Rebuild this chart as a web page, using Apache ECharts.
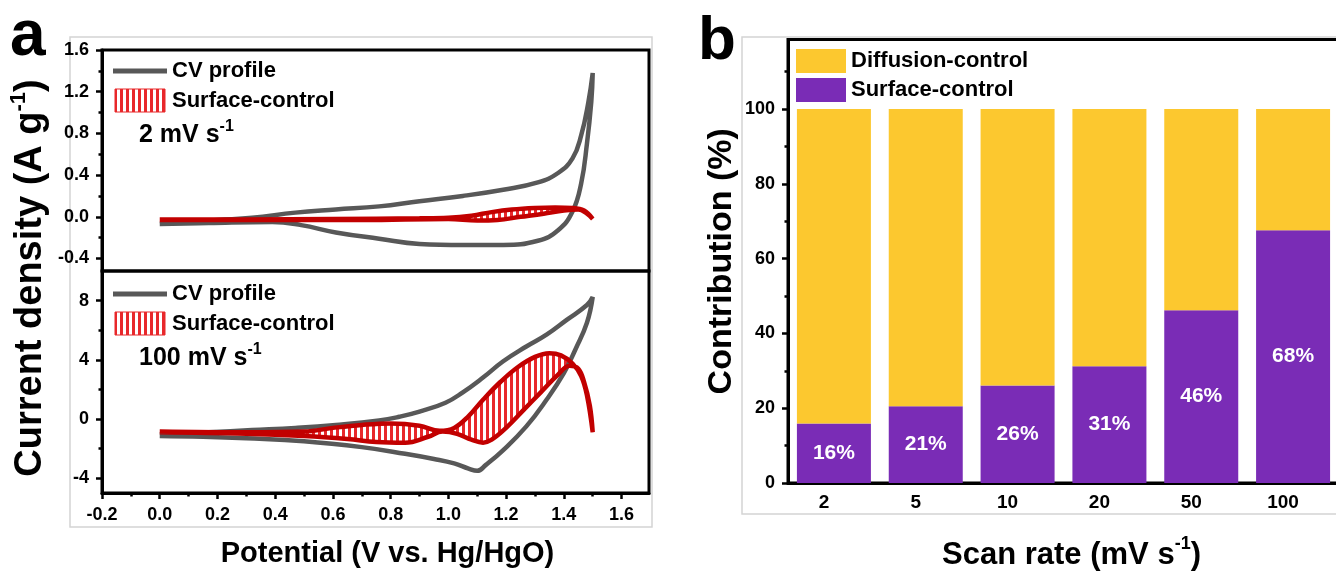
<!DOCTYPE html>
<html>
<head>
<meta charset="utf-8">
<script src="https://cdn.jsdelivr.net/npm/echarts@6/dist/echarts.min.js"></script>
<style>
  html, body { margin: 0; padding: 0; background: #fff; }
  #chart { width: 1336px; height: 575px; }
</style>
</head>
<body>
<div id="chart"></div>
<script>
// ---- panel a: CV at 2 mV/s (anodic sweep then cathodic sweep) ----
const cv2X = [0, 0.1, 0.2, 0.32, 0.47, 0.61, 0.76, 0.9, 1.05, 1.19, 1.31, 1.38, 1.43, 1.46, 1.485, 1.5,
              1.495, 1.48, 1.46, 1.43, 1.38, 1.31, 1.19, 1.05, 0.9, 0.76, 0.61, 0.49, 0.39, 0.17, 0];
const cv2Y = [-0.07, -0.05, -0.03, -0.01, 0.04, 0.07, 0.1, 0.15, 0.2, 0.26, 0.33, 0.42, 0.56, 0.78, 1.1, 1.38,
              1.1, 0.7, 0.32, 0.05, -0.13, -0.23, -0.27, -0.27, -0.26, -0.21, -0.15, -0.08, -0.05, -0.06, -0.07];
// surface-control part at 2 mV/s
const sc2X = [0, 0.3, 0.6, 0.9, 1.0, 1.08, 1.15, 1.22, 1.3, 1.37, 1.43, 1.47, 1.5,
              1.48, 1.45, 1.4, 1.33, 1.25, 1.17, 1.1, 1.0, 0.7, 0.3, 0];
const sc2Y = [-0.025, -0.025, -0.02, -0.015, -0.01, 0.01, 0.045, 0.07, 0.085, 0.09, 0.085, 0.06, -0.02,
              0.03, 0.07, 0.06, 0.03, 0.0, -0.03, -0.035, -0.02, -0.03, -0.03, -0.03];

// ---- panel a: CV at 100 mV/s ----
const cv100X = [0, 0.17, 0.32, 0.47, 0.61, 0.76, 0.83, 0.9, 0.99, 1.05, 1.12, 1.19, 1.27, 1.34, 1.41, 1.48, 1.5,
                1.48, 1.44, 1.4, 1.34, 1.27, 1.19, 1.13, 1.1, 1.07, 1.02, 0.95, 0.85, 0.7, 0.5, 0.3, 0.15, 0];
const cv100Y = [-1.05, -0.9, -0.75, -0.6, -0.4, -0.1, 0.15, 0.5, 1.1, 1.8, 2.8, 3.9, 4.9, 5.7, 6.7, 7.7, 8.25,
                6.5, 4.7, 3.1, 1.3, -0.5, -2.1, -3.1, -3.5, -3.35, -3.0, -2.7, -2.35, -1.9, -1.5, -1.3, -1.2, -1.15];
const sc100X = [0, 0.3, 0.5, 0.6, 0.7, 0.8, 0.9, 0.97, 1.02, 1.07, 1.12, 1.18, 1.24, 1.3, 1.35, 1.39, 1.43, 1.46, 1.48, 1.5,
                1.49, 1.47, 1.45, 1.42, 1.38, 1.32, 1.26, 1.2, 1.15, 1.12, 1.08, 1.03, 0.98, 0.93, 0.85, 0.75, 0.65, 0.5, 0.3, 0];
const sc100Y = [-0.85, -0.9, -0.85, -0.6, -0.4, -0.3, -0.45, -0.8, -0.6, 0.2, 1.3, 2.5, 3.5, 4.2, 4.45, 4.3, 3.75, 2.9, 1.6, -0.9,
                0.9, 2.5, 3.4, 3.6, 3.0, 1.8, 0.6, -0.6, -1.4, -1.6, -1.4, -1.0, -0.85, -1.2, -1.6, -1.55, -1.35, -1.15, -1.0, -0.9];

// ticks
const potentialTicks = [-0.2, 0, 0.2, 0.4, 0.6, 0.8, 1.0, 1.2, 1.4, 1.6];
const potentialMinor = [-0.1, 0.1, 0.3, 0.5, 0.7, 0.9, 1.1, 1.3, 1.5];
const lowRateTicks = [-0.4, 0, 0.4, 0.8, 1.2, 1.6];
const lowRateMinor = [-0.2, 0.2, 0.6, 1.0, 1.4];
const highRateTicks = [-4, 0, 4, 8];
const highRateMinor = [-2, 2, 6];

// ---- panel b ----
const scanRates = ['2', '5', '10', '20', '50', '100'];
const surfaceShare = [15.9, 20.5, 26.1, 31.2, 46.2, 67.6];
const diffusionShare = [84.1, 79.5, 73.9, 68.8, 53.8, 32.4];
const shareTicks = [0, 20, 40, 60, 80, 100];
const shareMinor = [10, 30, 50, 70, 90, 110];

const FONT = '"Liberation Sans", Arial, Helvetica, sans-serif';
const GRAY = '#585858';
const RED = '#c20000';
const STRIPE = '#e8282b';
const YELLOW = '#fcc82f';
const PURPLE = '#7a2cb6';

const zip = (xs, ys) => xs.map((x, i) => [x, ys[i]]);

// vertical red hatch used for the surface-control area
const hatchCanvas = document.createElement('canvas');
hatchCanvas.width = 6;
hatchCanvas.height = 6;
const hctx = hatchCanvas.getContext('2d');
hctx.fillStyle = STRIPE;
hctx.fillRect(0, 0, 3, 6);
const hatchFill = { image: hatchCanvas, repeat: 'repeat' };

const tickLabel = (size) => ({ fontFamily: FONT, fontWeight: 'bold', fontSize: size, color: '#000' });
const blackLine = { color: '#000', width: 3 };
const tickLine = { color: '#000', width: 2.5 };

function majorValueAxis(gridIndex, min, max, ticks, fmt, pos) {
    return {
        type: 'value', gridIndex, min, max, position: pos,
        axisLine: { show: true, onZero: false, lineStyle: blackLine },
        axisTick: { show: true, customValues: ticks, length: 6, lineStyle: tickLine },
        axisLabel: Object.assign({ customValues: ticks, formatter: fmt, margin: 13 }, tickLabel(18)),
        splitLine: { show: false }
    };
}
function minorValueAxis(gridIndex, min, max, ticks, pos) {
    return {
        type: 'value', gridIndex, min, max, position: pos,
        axisLine: { show: false, onZero: false },
        axisTick: { show: true, customValues: ticks, length: 3.5, lineStyle: tickLine },
        axisLabel: { show: false },
        splitLine: { show: false }
    };
}
function hiddenValueAxis(gridIndex, min, max, pos) {
    return {
        type: 'value', gridIndex, min, max, position: pos,
        axisLine: { show: false, onZero: false }, axisTick: { show: false },
        axisLabel: { show: false }, splitLine: { show: false }
    };
}

function cvLine(xs, ys, axis) {
    return {
        type: 'line', xAxisIndex: axis, yAxisIndex: axis, data: zip(xs, ys),
        showSymbol: false, smooth: 0.45, z: 3, silent: true,
        lineStyle: { color: GRAY, width: 4.5 }
    };
}
function surfaceLine(xs, ys, axis) {
    return {
        type: 'line', xAxisIndex: axis, yAxisIndex: axis, data: zip(xs, ys),
        showSymbol: false, smooth: 0.4, z: 5, silent: true,
        lineStyle: { color: RED, width: 4.5 }
    };
}
function surfaceHatch(xs, ys, axis) {
    const pts = zip(xs, ys);
    return {
        type: 'custom', xAxisIndex: axis, yAxisIndex: axis, data: pts, z: 2, silent: true,
        renderItem: function (params, api) {
            if (params.dataIndex !== 0) return null;
            return {
                type: 'polygon',
                shape: { points: pts.map(p => api.coord(p)), smooth: 0.3 },
                style: { fill: hatchFill, stroke: null }
            };
        }
    };
}

const supRich = (big, small, lh) => ({
    t: { fontFamily: FONT, fontWeight: 'bold', fontSize: big, lineHeight: lh, color: '#000' },
    s: { fontFamily: FONT, fontWeight: 'bold', fontSize: small, lineHeight: small, verticalAlign: 'top', color: '#000' }
});

function panelLegend(y0, rateText) {
    return [
        { type: 'line', shape: { x1: 113, y1: y0, x2: 167, y2: y0 }, style: { stroke: GRAY, lineWidth: 5 } },
        { type: 'text', x: 172, y: y0, style: { text: 'CV profile', fontFamily: FONT, fontWeight: 'bold', fontSize: 22, fill: '#000', verticalAlign: 'middle' } },
        { type: 'rect', shape: { x: 115, y: y0 + 18, width: 50, height: 23 }, style: { fill: hatchFill, stroke: STRIPE, lineWidth: 1 } },
        { type: 'text', x: 172, y: y0 + 30, style: { text: 'Surface-control', fontFamily: FONT, fontWeight: 'bold', fontSize: 22, fill: '#000', verticalAlign: 'middle' } },
        { type: 'text', x: 139, y: y0 + 64, style: { text: '{t|' + rateText + ' mV s}{s|-1}', rich: supRich(25, 16, 32), verticalAlign: 'middle' } }
    ];
}

const option = {
    animation: false,
    backgroundColor: '#fff',
    grid: [
        { left: 102, top: 50, width: 547, height: 221, show: true, borderColor: '#000', borderWidth: 3, outerBoundsMode: 'none', containLabel: false },
        { left: 102, top: 271, width: 547, height: 222, show: true, borderColor: '#000', borderWidth: 3, outerBoundsMode: 'none', containLabel: false },
        { left: 788, top: 39.5, right: -3, height: 443.5, show: true, borderColor: '#000', borderWidth: 3, outerBoundsMode: 'none', containLabel: false }
    ],
    xAxis: [
        hiddenValueAxis(0, -0.2, 1.695, 'bottom'),
        Object.assign(majorValueAxis(1, -0.2, 1.695, potentialTicks, v => v.toFixed(1), 'bottom'), {
            name: 'Potential (V vs. Hg/HgO)', nameLocation: 'middle', nameGap: 46,
            nameTextStyle: { fontFamily: FONT, fontWeight: 'bold', fontSize: 29, color: '#000', padding: [0, 0, 0, 24] }
        }),
        minorValueAxis(1, -0.2, 1.695, potentialMinor, 'bottom'),
        {
            type: 'category', gridIndex: 2, data: scanRates, position: 'bottom',
            axisLine: { show: true, onZero: false, lineStyle: blackLine },
            axisTick: { show: false },
            axisLabel: Object.assign({ margin: 10, padding: [0, 20, 0, 0] }, tickLabel(19)),
            name: '{t|Scan rate (mV s}{s|-1}{t|)}', nameLocation: 'middle', nameGap: 52,
            nameTextStyle: { rich: supRich(31, 18, 40), padding: [0, 0, 0, 16] }
        }
    ],
    yAxis: [
        majorValueAxis(0, -0.52, 1.6, lowRateTicks, v => v.toFixed(1), 'left'),
        majorValueAxis(1, -5, 10, highRateTicks, v => String(v), 'left'),
        minorValueAxis(0, -0.52, 1.6, lowRateMinor, 'left'),
        minorValueAxis(1, -5, 10, highRateMinor, 'left'),
        Object.assign(majorValueAxis(2, 0, 118.6, shareTicks, v => String(v), 'left'), {
            name: 'Contribution (%)', nameLocation: 'middle', nameGap: 49,
            nameTextStyle: { fontFamily: FONT, fontWeight: 'bold', fontSize: 34, color: '#000' }
        }),
        minorValueAxis(2, 0, 118.6, shareMinor, 'left')
    ],
    legend: {
        data: ['Diffusion-control', 'Surface-control'],
        orient: 'vertical', left: 796, top: 49, padding: 0,
        itemWidth: 50, itemHeight: 24, itemGap: 5, icon: 'rect',
        textStyle: { fontFamily: FONT, fontWeight: 'bold', fontSize: 22, color: '#000' },
        selectedMode: false
    },
    series: [
        cvLine(cv2X, cv2Y, 0),
        surfaceHatch(sc2X, sc2Y, 0),
        surfaceLine(sc2X, sc2Y, 0),
        cvLine(cv100X, cv100Y, 1),
        surfaceHatch(sc100X, sc100Y, 1),
        surfaceLine(sc100X, sc100Y, 1),
        {
            name: 'Surface-control', type: 'bar', xAxisIndex: 3, yAxisIndex: 4, stack: 'share',
            data: surfaceShare, barWidth: 74, itemStyle: { color: PURPLE },
            label: {
                show: true, position: 'inside', formatter: p => Math.round(p.value) + '%',
                fontFamily: FONT, fontWeight: 'bold', fontSize: 21, color: '#fff'
            }
        },
        {
            name: 'Diffusion-control', type: 'bar', xAxisIndex: 3, yAxisIndex: 4, stack: 'share',
            data: diffusionShare, barWidth: 74, itemStyle: { color: YELLOW }
        }
    ],
    graphic: [
        { type: 'rect', shape: { x: 70, y: 37, width: 582, height: 490 }, style: { fill: null, stroke: '#d4d4d4', lineWidth: 1.5 }, z: -1 },
        { type: 'rect', shape: { x: 742, y: 37, width: 600, height: 477 }, style: { fill: null, stroke: '#d4d4d4', lineWidth: 1.5 }, z: -1 },
        { type: 'text', x: 10, y: 37, style: { text: 'a', fontFamily: FONT, fontWeight: 'bold', fontSize: 64, fill: '#000', verticalAlign: 'middle' } },
        { type: 'text', x: 698, y: 42, style: { text: 'b', fontFamily: FONT, fontWeight: 'bold', fontSize: 62, fill: '#000', verticalAlign: 'middle' } },
        {
            type: 'text', x: 31, y: 278, rotation: Math.PI / 2,
            style: { text: '{t|Current density (A g}{s|-1}{t|)}', rich: supRich(38, 22, 46), align: 'center', verticalAlign: 'middle' }
        }
    ].concat(panelLegend(71, '2'), panelLegend(294, '100'))
};

const chart = echarts.init(document.getElementById('chart'), null, { renderer: 'canvas' });
chart.setOption(option);
</script>
</body>
</html>
